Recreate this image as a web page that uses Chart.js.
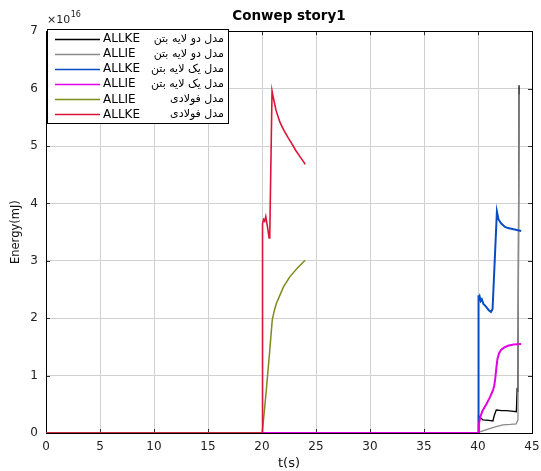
<!DOCTYPE html>
<html>
<head>
<meta charset="utf-8">
<title>Conwep story1</title>
<script src="https://cdn.jsdelivr.net/npm/chart.js@4"></script>
<style>
  html, body { margin: 0; padding: 0; background: #ffffff; }
  #wrap { width: 541px; height: 471px; }
</style>
</head>
<body>
<div id="wrap"><canvas id="chart" width="541" height="471"></canvas></div>
<script>
// Energy histories (values in units of 1e16 mJ) for the three models.
const xTicks = [0, 5, 10, 15, 20, 25, 30, 35, 40, 45];
const yTicks = [0, 1, 2, 3, 4, 5, 6, 7];

// two-layer concrete model
const twoLayerKeTime  = [0, 40.0, 40.05, 40.2, 40.45, 41.0, 41.38, 41.5, 41.69, 42.2, 42.6, 43.1, 43.55, 43.62, 43.7, 43.8];
const twoLayerKe      = [0, 0, 0.30, 0.27, 0.23, 0.22, 0.21, 0.30, 0.40, 0.39, 0.39, 0.38, 0.37, 0.76, 0.74, 6.06];
const twoLayerIeTime  = [0, 40.0, 40.3, 40.8, 41.3, 41.69, 42.3, 43.0, 43.54, 43.7, 43.8];
const twoLayerIe      = [0, 0, 0.03, 0.06, 0.09, 0.11, 0.14, 0.15, 0.16, 0.23, 5.90];

// single-layer concrete model
const oneLayerKeTime  = [0, 40.0, 40.02, 40.08, 40.15, 40.25, 40.35, 40.5, 40.7, 41.0, 41.2, 41.35, 41.75, 41.9, 42.15, 42.5, 42.77, 43.3, 44.0];
const oneLayerKe      = [0, 0, 2.40, 2.33, 2.38, 2.30, 2.33, 2.25, 2.21, 2.14, 2.11, 2.16, 3.86, 3.72, 3.65, 3.59, 3.57, 3.55, 3.52];
const oneLayerIeTime  = [0, 40.0, 40.08, 40.2, 40.4, 40.77, 41.1, 41.38, 41.5, 41.6, 41.7, 41.8, 41.95, 42.15, 42.45, 42.77, 43.3, 44.0];
const oneLayerIe      = [0, 0, 0.15, 0.27, 0.38, 0.50, 0.62, 0.74, 0.82, 0.95, 1.14, 1.29, 1.39, 1.45, 1.49, 1.52, 1.54, 1.55];

// steel model
const steelIeTime     = [0, 20.0, 20.1, 20.4, 20.7, 20.95, 21.15, 21.34, 21.7, 22.0, 22.57, 23.3, 24.0];
const steelIe         = [0, 0, 0.15, 0.75, 1.40, 1.97, 2.14, 2.26, 2.42, 2.55, 2.72, 2.88, 3.01];
const steelKeTime     = [0, 20.0, 20.05, 20.15, 20.25, 20.35, 20.5, 20.66, 20.72, 20.93, 21.05, 21.3, 21.65, 22.0, 22.4, 22.73, 23.1, 23.5, 23.87, 24.0];
const steelKe         = [0, 0, 3.65, 3.72, 3.69, 3.77, 3.60, 3.40, 3.45, 5.96, 5.84, 5.62, 5.42, 5.28, 5.15, 5.05, 4.93, 4.82, 4.72, 4.68];

const energyTypes = ['ALLKE', 'ALLIE', 'ALLKE', 'ALLIE', 'ALLIE', 'ALLKE'];
const modelNames  = ['مدل دو لایه بتن', 'مدل دو لایه بتن', 'مدل یک لایه بتن', 'مدل یک لایه بتن', 'مدل فولادی', 'مدل فولادی'];
const seriesTimes = [twoLayerKeTime, twoLayerIeTime, oneLayerKeTime, oneLayerIeTime, steelIeTime, steelKeTime];
const seriesVals  = [twoLayerKe, twoLayerIe, oneLayerKe, oneLayerIe, steelIe, steelKe];
const seriesColors = ['#000000', '#8a8a8a', '#0a4cc4', '#e400e4', '#7d8a1e', '#dc1438'];
const seriesWidths = [1.3, 1.3, 2.0, 2.0, 1.5, 1.6];

const FONT = '"DejaVu Sans", "Liberation Sans", Arial, sans-serif';

const datasets = seriesVals.map((vals, i) => ({
  label: energyTypes[i] + '  ' + modelNames[i],
  data: vals.map((v, k) => ({ x: seriesTimes[i][k], y: v })),
  borderColor: seriesColors[i],
  backgroundColor: seriesColors[i],
  borderWidth: seriesWidths[i],
  pointRadius: 0,
  tension: 0,
  fill: false,
  // later series in the list are painted on top
  order: seriesVals.length - i
}));

// axes frame with inward tick marks on all four sides
const framePlugin = {
  id: 'frame',
  beforeDatasetsDraw(chart) {
    const { ctx, chartArea: a, scales } = chart;
    ctx.save();
    ctx.strokeStyle = '#303030';
    ctx.lineWidth = 1;
    ctx.beginPath();
    xTicks.forEach(t => {
      const px = Math.round(scales.x.getPixelForValue(t)) + 0.5;
      ctx.moveTo(px, a.bottom); ctx.lineTo(px, a.bottom - 4);
      ctx.moveTo(px, a.top); ctx.lineTo(px, a.top + 4);
    });
    yTicks.forEach(v => {
      const py = Math.round(scales.y.getPixelForValue(v)) + 0.5;
      ctx.moveTo(a.left, py); ctx.lineTo(a.left + 4, py);
      ctx.moveTo(a.right, py); ctx.lineTo(a.right - 4, py);
    });
    ctx.stroke();
    ctx.strokeStyle = '#000000';
    ctx.strokeRect(Math.round(a.left) + 0.5, Math.round(a.top) + 0.5,
                   Math.round(a.right - a.left), Math.round(a.bottom - a.top));
    ctx.restore();
  }
};

// boxed legend in the upper-left corner of the plot
const boxLegendPlugin = {
  id: 'boxLegend',
  afterDatasetsDraw(chart) {
    const { ctx, chartArea: a } = chart;
    const left = Math.round(a.left) + 1, top = Math.round(a.top) - 2;
    const w = 181, h = 94, rowH = 15.1;
    ctx.save();
    ctx.fillStyle = '#ffffff';
    ctx.fillRect(left, top, w, h);
    ctx.strokeStyle = '#000000';
    ctx.lineWidth = 1;
    ctx.strokeRect(left + 0.5, top + 0.5, w, h);
    chart.data.datasets.forEach((ds, i) => {
      const y = top + 9.5 + i * rowH;
      ctx.strokeStyle = ds.borderColor;
      ctx.lineWidth = Math.min(ds.borderWidth, 1.6);
      ctx.beginPath();
      ctx.moveTo(left + 8, Math.round(y) + 0.5);
      ctx.lineTo(left + 53, Math.round(y) + 0.5);
      ctx.stroke();
      ctx.fillStyle = '#000000';
      ctx.textBaseline = 'middle';
      ctx.direction = 'ltr';
      ctx.textAlign = 'left';
      ctx.font = '12px ' + FONT;
      ctx.fillText(energyTypes[i], left + 56, y + 0.5);
      ctx.direction = 'rtl';
      ctx.textAlign = 'right';
      ctx.font = '11px ' + FONT;
      ctx.fillText(modelNames[i], left + 177, y + 0.5);
    });
    ctx.restore();
  },
  afterDraw(chart) {
    // exponent of the y axis
    const { ctx, chartArea: a } = chart;
    ctx.save();
    ctx.fillStyle = '#222222';
    ctx.textBaseline = 'alphabetic';
    ctx.textAlign = 'left';
    ctx.font = '11px ' + FONT;
    const base = '\u00d710';
    const x0 = a.left + 1;
    ctx.fillText(base, x0, a.top - 8);
    const bw = ctx.measureText(base).width;
    ctx.font = '8px ' + FONT;
    ctx.fillText('16', x0 + bw + 0.5, a.top - 14);
    ctx.restore();
  }
};

new Chart(document.getElementById('chart'), {
  type: 'line',
  data: { datasets },
  plugins: [framePlugin, boxLegendPlugin],
  options: {
    responsive: false,
    animation: false,
    devicePixelRatio: 1,
    layout: { padding: { left: 0, right: 9, top: 0, bottom: 0 } },
    plugins: {
      legend: { display: false },
      tooltip: { enabled: false },
      title: {
        display: true,
        text: 'Conwep story1',
        color: '#000000',
        fullSize: false,
        font: { family: FONT, size: 13.5, weight: 'bold' },
        padding: { top: 8, bottom: 7 }
      }
    },
    scales: {
      x: {
        type: 'linear',
        min: 0, max: 45,
        afterBuildTicks(scale) { scale.ticks = xTicks.map(v => ({ value: v })); },
        ticks: { font: { family: FONT, size: 12 }, color: '#222222', padding: 7, maxRotation: 0, autoSkip: false },
        grid: { color: '#d0d0d0', lineWidth: 1, drawTicks: false },
        border: { display: true, color: '#000000' },
        title: { display: true, text: 't(s)', color: '#111111', font: { family: FONT, size: 13 }, padding: { top: 0, bottom: 0 } },
        afterFit(scale) {
          scale.height = 38;
          scale.paddingLeft = 0;
          scale.paddingRight = 0;
        }
      },
      y: {
        type: 'linear',
        min: 0, max: 7,
        afterBuildTicks(scale) { scale.ticks = yTicks.map(v => ({ value: v })); },
        ticks: { font: { family: FONT, size: 12 }, color: '#222222', padding: 8 },
        grid: { color: '#d0d0d0', lineWidth: 1, drawTicks: false },
        border: { display: true, color: '#000000' },
        title: { display: true, text: 'Energy(mJ)', color: '#111111', font: { family: FONT, size: 11.5 }, padding: { top: 9, bottom: 0 } },
        afterFit(scale) { scale.width = 46; }
      }
    }
  }
});
</script>
</body>
</html>
